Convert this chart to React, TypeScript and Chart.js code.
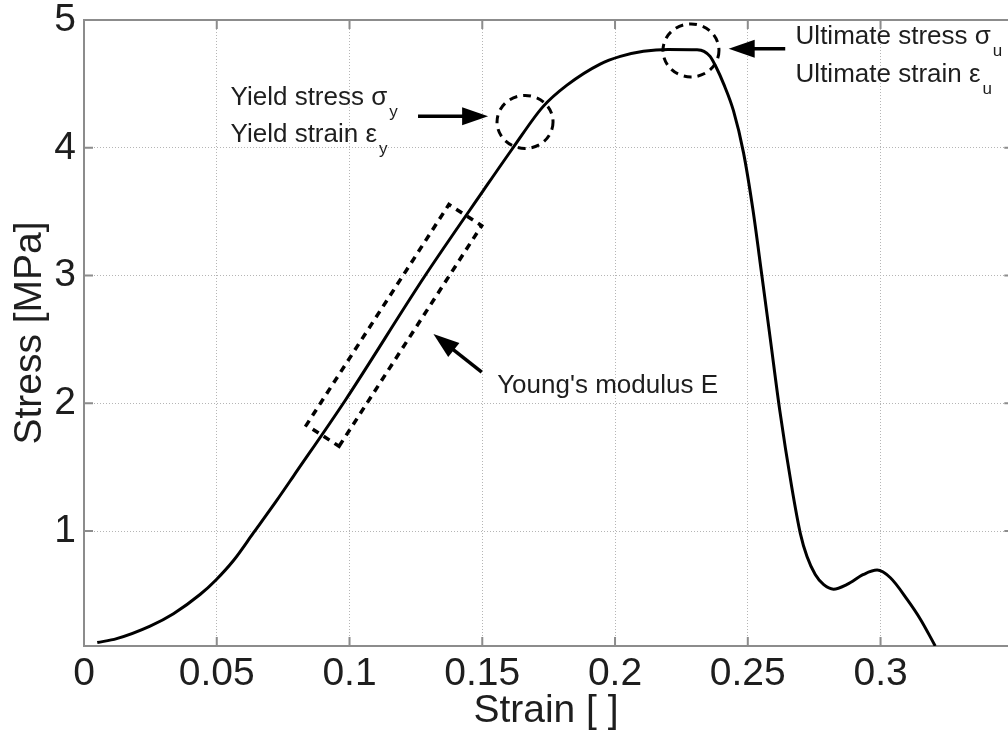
import React, { useEffect, useRef } from "react";
import { Chart, registerables } from "chart.js";

Chart.register(...registerables);

// ---- data ----
const strain = [
  0.005, 0.0123, 0.0249, 0.0337, 0.0437, 0.0497, 0.0563, 0.0638, 0.0726, 0.0789,
  0.0983, 0.1285, 0.1505, 0.1616, 0.1728, 0.1819, 0.1944, 0.202, 0.2107, 0.22,
  0.2309, 0.2335, 0.2358, 0.2381, 0.2409, 0.2446, 0.2484, 0.2519, 0.2553, 0.2585, 0.262,
  0.2665, 0.2698, 0.2723, 0.2754, 0.2786, 0.2823, 0.2874, 0.2936, 0.2987, 0.3037,
  0.31, 0.315, 0.3206,
];
const stress = [
  0.127, 0.158, 0.256, 0.353, 0.503, 0.617, 0.769, 0.985, 1.24, 1.43,
  2.02, 3.0, 3.668, 4.0, 4.32, 4.49, 4.655, 4.715, 4.755, 4.77,
  4.767, 4.755, 4.715, 4.63, 4.5, 4.29, 3.96, 3.52, 3.0, 2.5, 1.95,
  1.35, 0.98, 0.8, 0.66, 0.58, 0.545, 0.582, 0.66, 0.694, 0.634,
  0.465, 0.31, 0.1,
];

const xTickValues = [0, 0.05, 0.1, 0.15, 0.2, 0.25, 0.3];
const xTickLabels = ["0", "0.05", "0.1", "0.15", "0.2", "0.25", "0.3"];
const yTickValues = [1, 2, 3, 4, 5];
const yTickLabels = ["1", "2", "3", "4", "5"];
const xTitle = "Strain [ ]";
const yTitle = "Stress [MPa]";
const xRange = [0, 0.348];
const xBoxEdge = 0.35;
const yRange = [0.1, 5];

// annotation anchors (data coordinates)
const circleCenters = [
  [0.1661, 4.202],
  [0.2286, 4.762],
];
const arrowTails = [
  [0.1258, 4.246],
  [0.2641, 4.775],
  [0.1498, 2.244],
];
const arrowTips = [
  [0.1522, 4.246],
  [0.2428, 4.775],
  [0.1316, 2.543],
];
const boxEnds = [
  [0.0899, 1.746],
  [0.1436, 3.473],
];
const noteTexts = [
  "Yield stress σ",
  "Yield strain ε",
  "Ultimate stress σ",
  "Ultimate strain ε",
  "Young's modulus E",
];
const noteSubs = ["y", "y", "u", "u", ""];
const noteAnchors = [
  [0.0552, 4.332],
  [0.0552, 4.045],
  [0.2680, 4.814],
  [0.2680, 4.514],
  [0.1556, 2.08],
];

const FONT = '"Liberation Sans", Arial, Helvetica, sans-serif';
const AXIS_GRAY = "#8c8c8c";
const TEXT = "#1e1e1e";

const decorPlugin = {
  id: "decor",
  afterDatasetsDraw(chart: any) {
    const { ctx, chartArea } = chart;
    const xs = chart.scales.x;
    const ys = chart.scales.y;
    const px = (v: number) => xs.getPixelForValue(v);
    const py = (v: number) => ys.getPixelForValue(v);

    ctx.save();
    // top border and inward tick marks
    ctx.strokeStyle = AXIS_GRAY;
    ctx.lineWidth = 2;
    ctx.setLineDash([]);
    ctx.beginPath();
    ctx.moveTo(chartArea.left, chartArea.top);
    ctx.lineTo(chartArea.right, chartArea.top);
    ctx.stroke();
    const tl = 9;
    ctx.beginPath();
    xTickValues.forEach((v) => {
      const x = px(v);
      ctx.moveTo(x, chartArea.bottom);
      ctx.lineTo(x, chartArea.bottom - tl);
      ctx.moveTo(x, chartArea.top);
      ctx.lineTo(x, chartArea.top + tl);
    });
    const rx = px(xBoxEdge);
    yTickValues.forEach((v) => {
      const y = py(v);
      ctx.moveTo(chartArea.left, y);
      ctx.lineTo(chartArea.left + tl, y);
      ctx.moveTo(rx, y);
      ctx.lineTo(rx - tl, y);
    });
    ctx.stroke();

    // dashed circles
    ctx.strokeStyle = "#000";
    ctx.lineWidth = 3;
    ctx.setLineDash([8, 6]);
    circleCenters.forEach(([cx, cy]) => {
      ctx.beginPath();
      ctx.ellipse(px(cx), py(cy), 28, 26.5, 0, 0, Math.PI * 2);
      ctx.stroke();
    });

    // dashed box around linear region
    const [b0, b1] = boxEnds;
    const x0 = px(b0[0]), y0 = py(b0[1]);
    const x1 = px(b1[0]), y1 = py(b1[1]);
    const len = Math.hypot(x1 - x0, y1 - y0);
    const nx = -(y1 - y0) / len, ny = (x1 - x0) / len;
    const hw = 19.5;
    ctx.lineWidth = 3.5;
    ctx.setLineDash([7, 6]);
    ctx.beginPath();
    ctx.moveTo(x0 + nx * hw, y0 + ny * hw);
    ctx.lineTo(x1 + nx * hw, y1 + ny * hw);
    ctx.lineTo(x1 - nx * hw, y1 - ny * hw);
    ctx.lineTo(x0 - nx * hw, y0 - ny * hw);
    ctx.closePath();
    ctx.stroke();

    // arrows
    ctx.setLineDash([]);
    ctx.fillStyle = "#000";
    arrowTails.forEach((t, i) => {
      const tip = arrowTips[i];
      const ax = px(t[0]), ay = py(t[1]);
      const bx = px(tip[0]), by = py(tip[1]);
      const L = Math.hypot(bx - ax, by - ay);
      const ux = (bx - ax) / L, uy = (by - ay) / L;
      const head = 26, half = 9;
      ctx.lineWidth = 3.5;
      ctx.beginPath();
      ctx.moveTo(ax, ay);
      ctx.lineTo(bx - ux * head * 0.8, by - uy * head * 0.8);
      ctx.stroke();
      ctx.beginPath();
      ctx.moveTo(bx, by);
      ctx.lineTo(bx - ux * head - uy * half, by - uy * head + ux * half);
      ctx.lineTo(bx - ux * head + uy * half, by - uy * head - ux * half);
      ctx.closePath();
      ctx.fill();
    });

    // notes
    ctx.fillStyle = TEXT;
    ctx.textBaseline = "alphabetic";
    ctx.textAlign = "left";
    noteTexts.forEach((txt, i) => {
      const [ax, ay] = noteAnchors[i];
      const x = px(ax), y = py(ay);
      ctx.font = `26px ${FONT}`;
      ctx.fillText(txt, x, y);
      if (noteSubs[i]) {
        const w = ctx.measureText(txt).width;
        ctx.font = `17px ${FONT}`;
        ctx.fillText(noteSubs[i], x + w + 2, y + 12);
      }
    });
    ctx.restore();
  },
};

export default function App() {
  const ref = useRef<HTMLCanvasElement | null>(null);

  useEffect(() => {
    if (!ref.current) return;
    const points = strain.map((s, i) => ({ x: s, y: stress[i] }));
    const chart = new Chart(ref.current, {
      type: "line",
      data: {
        datasets: [
          {
            data: points,
            borderColor: "#000",
            borderWidth: 3,
            pointRadius: 0,
            cubicInterpolationMode: "monotone",
            fill: false,
          },
        ],
      },
      options: {
        animation: false,
        responsive: false,
        devicePixelRatio: 1,
        layout: { padding: { top: 20, right: 0, left: 0, bottom: 0 } },
        plugins: {
          legend: { display: false },
          tooltip: { enabled: false },
        },
        scales: {
          x: {
            type: "linear",
            min: xRange[0],
            max: xRange[1],
            afterBuildTicks: (scale: any) => {
              scale.ticks = xTickValues.map((v) => ({ value: v }));
            },
            afterFit: (scale: any) => {
              scale.height = 94;
              scale.paddingLeft = 0;
              scale.paddingRight = 0;
            },
            ticks: {
              callback: (_v: any, i: number) => xTickLabels[i],
              font: { family: FONT, size: 39 },
              color: TEXT,
              padding: 5,
              maxRotation: 0,
              autoSkip: false,
            },
            grid: {
              color: "#b5b5b5",
              lineWidth: 1,
              drawTicks: false,
            },
            border: { display: true, color: AXIS_GRAY, width: 2, dash: [1, 2] },
            title: {
              display: true,
              text: xTitle,
              font: { family: FONT, size: 39 },
              color: TEXT,
              padding: { top: 0, bottom: 5 },
            },
          },
          y: {
            type: "linear",
            min: yRange[0],
            max: yRange[1],
            afterBuildTicks: (scale: any) => {
              scale.ticks = yTickValues.map((v) => ({ value: v }));
            },
            afterFit: (scale: any) => {
              scale.width = 84;
              scale.paddingTop = 0;
              scale.paddingBottom = 0;
            },
            ticks: {
              callback: (_v: any, i: number) => yTickLabels[i],
              font: { family: FONT, size: 39 },
              color: TEXT,
              padding: 8,
              autoSkip: false,
            },
            grid: {
              color: "#b5b5b5",
              lineWidth: 1,
              drawTicks: false,
            },
            border: { display: true, color: AXIS_GRAY, width: 2, dash: [1, 2] },
            title: {
              display: true,
              text: yTitle,
              font: { family: FONT, size: 39 },
              color: TEXT,
              padding: { top: 7, bottom: 0 },
            },
          },
        },
      },
      plugins: [decorPlugin],
    });
    return () => chart.destroy();
  }, []);

  return (
    <div style={{ position: "fixed", left: 0, top: 0, width: 1008, height: 740, background: "#fff" }}>
      <canvas ref={ref} width={1008} height={740} style={{ display: "block", width: 1008, height: 740 }} />
    </div>
  );
}
